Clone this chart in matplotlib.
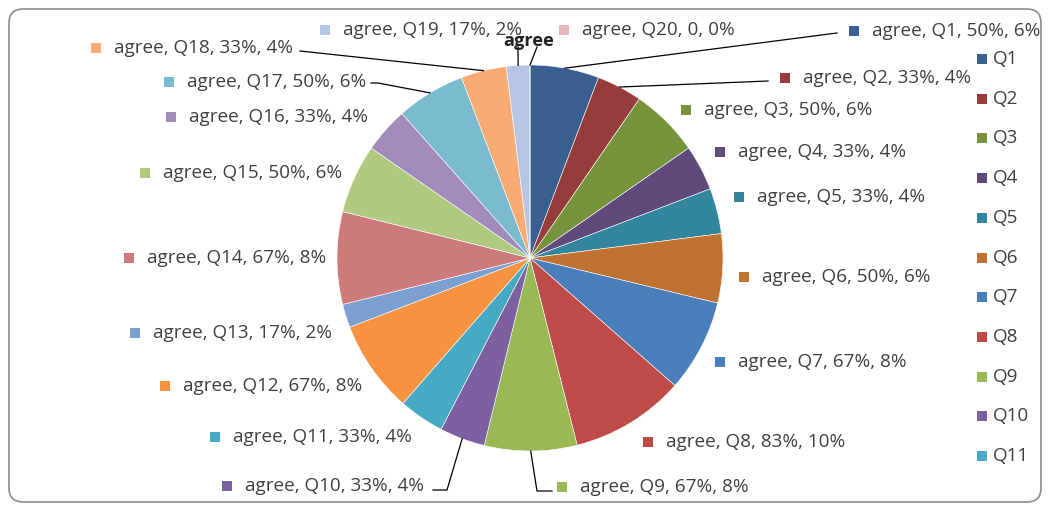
import numpy as np
import matplotlib
matplotlib.use("Agg")
import matplotlib.pyplot as plt
from matplotlib.patches import Rectangle, FancyBboxPatch

plt.rcParams['font.family'] = ['Open Sans', 'DejaVu Sans']

questions = ['Q%d' % i for i in range(1, 21)]
agree_pct = [50, 33, 50, 33, 33, 50, 67, 83, 67, 33, 33, 67, 17, 67, 50, 33, 50, 33, 17, 0]
colors = ['#3A5F91', '#963C3A', '#77933C', '#604A7B', '#31859C', '#C07230',
          '#4A7EBB', '#BE4B48', '#98B954', '#7D60A0', '#46AAC5', '#F69240',
          '#7C9FD2', '#CD7B7A', '#B0CA7F', '#A08BBA', '#7BBBD0', '#F9AB74',
          '#B5C5E2', '#E6B9B8']
legend_items = questions[:11]

W, H = 1050, 507
cx, cy, R = 530, 258, 193
txt_col = '#404040'
fs = 13.6

# label anchor (text left x, y) in pixels
lab_pos = [(872, 31), (803, 78), (704, 110), (738, 152), (757, 197), (762, 277),
           (738, 362), (666, 442), (580, 487), (245, 486), (233, 437), (183, 386),
           (153, 333), (147, 258), (163, 173), (189, 117), (187, 82), (114, 48),
           (343, 30), (582, 30)]
# leader line bends (after slice edge point)
leaders = {0: [(837, 33)], 1: [(768, 81)], 8: [(537, 491), (552, 491)],
           9: [(447, 490), (433, 490)], 16: [(378, 83), (371, 83)],
           17: [(300, 51)], 18: [(518, 47)], 19: [(537, 47)]}

fig = plt.figure(figsize=(W / 100, H / 100), dpi=100)
ax = fig.add_axes([0, 0, 1, 1])

wedges, _ = ax.pie(agree_pct, colors=colors, center=(cx, cy), radius=R,
                   startangle=-90, counterclock=True,
                   wedgeprops=dict(edgecolor='white', linewidth=0.4))
ax.set_xlim(0, W)
ax.set_ylim(H, 0)
ax.set_aspect('auto')
ax.axis('off')

total = sum(agree_pct)
for i, (q, p) in enumerate(zip(questions, agree_pct)):
    share = round(p / total * 100)
    pl = '%d%%' % p if p > 0 else '0'
    tx, ty = lab_pos[i]
    ax.add_patch(Rectangle((tx - 23, ty - 5), 10, 10, color=colors[i], lw=0))
    ax.text(tx, ty, 'agree, %s, %s, %d%%' % (q, pl, share), fontsize=fs,
            color=txt_col, va='center', ha='left')
    if i in leaders:
        w = wedges[i]
        a = np.deg2rad((w.theta1 + w.theta2) / 2)
        pts = [(cx + R * np.cos(a), cy + R * np.sin(a))] + leaders[i]
        xs, ys = zip(*pts)
        ax.plot(xs, ys, color='black', lw=0.9)

ax.text(529, 41, 'agree', fontsize=fs - 0.5, fontweight='bold', color='#222222',
        ha='center', va='center')

# cropped legend
for k, q in enumerate(legend_items):
    ly = 59 + k * 39.7
    ax.add_patch(Rectangle((977, ly - 5), 10, 10, color=colors[k], lw=0))
    ax.text(993, ly, q, fontsize=fs, color=txt_col, va='center', ha='left')

frame = FancyBboxPatch((9, 9), W - 18, H - 14, boxstyle='round,pad=0,rounding_size=14',
                       fill=False, edgecolor='#8C8C8C', lw=1.2)
ax.add_patch(frame)

fig.savefig('out.png', dpi=100)
